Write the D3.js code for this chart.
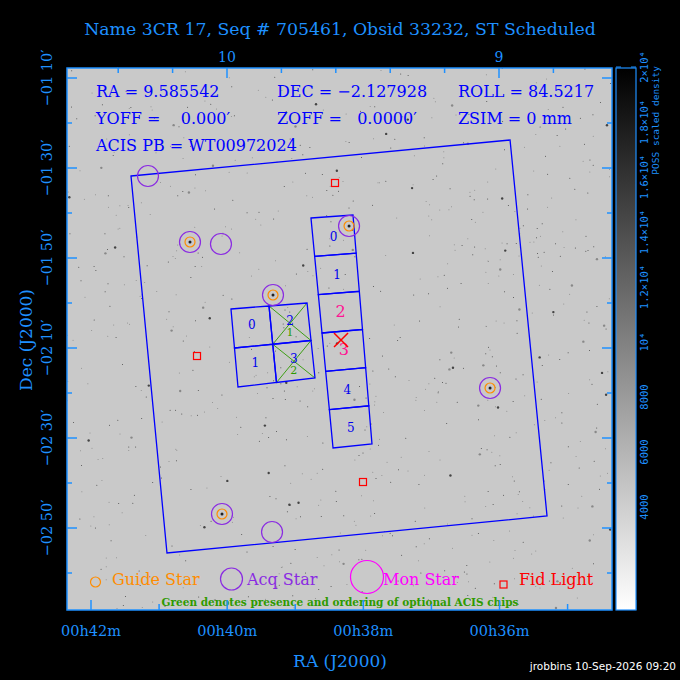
<!DOCTYPE html>
<html>
<head>
<meta charset="utf-8">
<script src="https://cdn.jsdelivr.net/npm/d3@7"></script>
<style>
body{margin:0;background:#000;}
svg{display:block;}
</style>
</head>
<body>
<div id="chart"></div>
<script>
// positions are RA in minutes of time (00h..m) and Dec in arcmin (signed)
const fieldBox = [[41.4125,-91.78],[35.845,-83.78],[35.302,-167.33],[40.884,-175.56]]
const sColumn = [[38.769,-101.11],[38.152,-100.44],[37.873,-151.33],[38.445,-152.22]]
const iArray = [[39.944,-121.33],[38.827,-120],[38.710,-136.67],[39.841,-138.67]]
const sLabels = ['0','1','2','3','4','5']
const sLabelColors = ['#0000ee','#0000ee','#ff1493','#ff1493','#0000ee','#0000ee']
const iLabels = ['0','2','1','3']   // tl, tr, bl, br
const iGreen = [null,'1',null,'2']
const acqStars = [[41.163,-91.78],[40.546,-106.44],[40.091,-106.89],[39.327,-118.22],[38.210,-102.89],[36.139,-138.89],[40.076,-166.89],[39.341,-170.89]]
const guideStars = [[40.546,-106.44],[39.327,-118.22],[38.210,-102.89],[36.139,-138.89],[40.076,-166.89]]
const fidLights = [[38.416,-93.33],[40.443,-131.78],[38.005,-159.78]]
const badChip = [38.328,-128.22]
const raTicks = [42,40,38,36]
const raTickLabels = ['00h42m','00h40m','00h38m','00h36m']
const decTicks = [-70,-90,-110,-130,-150,-170]
const decTickLabels = ['\u221201 10\u2032','\u221201 30\u2032','\u221201 50\u2032','\u221202 10\u2032','\u221202 30\u2032','\u221202 50\u2032']
const degTicks = [10,9]
const cbarTicks = [4000,6000,8000,10000,12000,14000,16000,18000,20000]
const cbarLabels = ['4000','6000','8000','10\u2074','1.2\u00d710\u2074','1.4\u00d710\u2074','1.6\u00d710\u2074','1.8\u00d710\u2074','2\u00d710\u2074']
const infoLines = [
  ['RA = 9.585542','DEC = \u22122.127928','ROLL = 84.5217'],
  ['YOFF =    0.000\u2032','ZOFF =   0.0000\u2032','ZSIM = 0 mm'],
  ['ACIS PB = WT00972024','','']
]

const W = 680, H = 680
const plot = {left:67, right:612, top:68, bottom:610}
const axisBlue = '#1e90ff'
const font = 'DejaVu Serif'

const svg = d3.select('#chart').append('svg').attr('width',W).attr('height',H)
svg.append('rect').attr('width',W).attr('height',H).attr('fill','#000')

const x = d3.scaleLinear().domain([42,36]).range([91,499.5])
const y = d3.scaleLinear().domain([-70,-190]).range([78,618])
const xDeg = d3.scaleLinear().domain([10,9]).range([227,499])
const cy = d3.scaleLinear().domain([4000,20000]).range([507,67])

// sky image
svg.append('rect').attr('x',plot.left).attr('y',plot.top)
  .attr('width',plot.right-plot.left).attr('height',plot.bottom-plot.top).attr('fill','#c9c9c9')
let seed = 17
const rnd = ()=>{ seed = (seed*16807)%2147483647; return seed/2147483647 }
const specks = svg.append('g')
for(let i=0;i<800;i++){
  const sx = plot.left+rnd()*(plot.right-plot.left), sy = plot.top+rnd()*(plot.bottom-plot.top)
  const r = rnd()<0.93 ? 0.5 : 1.2
  specks.append('circle').attr('cx',sx).attr('cy',sy).attr('r',r).attr('fill',rnd()<0.5?'#444':'#888')
}

const pt = d => [x(d[0]), y(d[1])]
const poly = pts => 'M' + pts.map(p=>pt(p).join(',')).join('L') + 'Z'
const lerp = (a,b,t)=>[a[0]+(b[0]-a[0])*t, a[1]+(b[1]-a[1])*t]

// field box
svg.append('path').attr('d',poly(fieldBox)).attr('fill','none').attr('stroke','#0000ff').attr('stroke-width',1.3)

// ACIS-S column split into 6 chips
const [s0,s1,s2,s3] = sColumn
for(let i=0;i<6;i++){
  const a = lerp(s0,s3,i/6), b = lerp(s1,s2,i/6), c = lerp(s1,s2,(i+1)/6), d = lerp(s0,s3,(i+1)/6)
  svg.append('path').attr('d',poly([a,b,c,d])).attr('fill','none').attr('stroke','#0000ff').attr('stroke-width',1.3)
  const ctr = pt(lerp(lerp(a,b,0.5),lerp(d,c,0.5),0.5))
  svg.append('text').attr('x',ctr[0]).attr('y',ctr[1]+5).attr('text-anchor','middle')
    .attr('font-family',font).attr('font-size',i==2||i==3?16:12).attr('fill',sLabelColors[i]).text(sLabels[i])
}

// ACIS-I 2x2
const [i0,i1,i2,i3] = iArray
const iCells = [[0,0],[1,0],[0,1],[1,1]]
iCells.forEach(([cx,cyy],k)=>{
  const q = (u,v)=>lerp(lerp(i0,i1,u),lerp(i3,i2,u),v)
  const a=q(cx/2,cyy/2), b=q((cx+1)/2,cyy/2), c=q((cx+1)/2,(cyy+1)/2), d=q(cx/2,(cyy+1)/2)
  if(cx==1){
    const g = svg.append('g').attr('stroke','#2e9a00').attr('stroke-width',0.9)
    g.append('line').attr('x1',pt(a)[0]).attr('y1',pt(a)[1]).attr('x2',pt(c)[0]).attr('y2',pt(c)[1])
    g.append('line').attr('x1',pt(b)[0]).attr('y1',pt(b)[1]).attr('x2',pt(d)[0]).attr('y2',pt(d)[1])
  }
  svg.append('path').attr('d',poly([a,b,c,d])).attr('fill','none').attr('stroke','#0000ff').attr('stroke-width',1.3)
  const ctr = pt(q((cx+0.5)/2,(cyy+0.5)/2))
  svg.append('text').attr('x',ctr[0]).attr('y',ctr[1]+2).attr('text-anchor','middle')
    .attr('font-family',font).attr('font-size',12).attr('fill','#0000ee').text(iLabels[k])
  if(iGreen[k]) svg.append('text').attr('x',ctr[0]).attr('y',ctr[1]+13).attr('text-anchor','middle')
    .attr('font-family',font).attr('font-size',11).attr('fill','#2e9a00').text(iGreen[k])
})

// bad chip X
const bx = pt(badChip)
svg.append('g').attr('stroke','#ff0000').attr('stroke-width',1.5).selectAll('line')
  .data([[-7,-7,7,7],[-7,7,7,-7]]).join('line')
  .attr('x1',d=>bx[0]+d[0]).attr('y1',d=>bx[1]+d[1]).attr('x2',d=>bx[0]+d[2]).attr('y2',d=>bx[1]+d[3])

// stars
svg.append('g').selectAll('circle.dot').data(guideStars).join('circle')
  .attr('cx',d=>x(d[0])).attr('cy',d=>y(d[1])).attr('r',1.5).attr('fill','#222')
svg.append('g').selectAll('circle').data(acqStars).join('circle')
  .attr('cx',d=>x(d[0])).attr('cy',d=>y(d[1])).attr('r',10.5).attr('fill','none').attr('stroke','#8a2be2').attr('stroke-width',1.2)
svg.append('g').selectAll('circle').data(guideStars).join('circle')
  .attr('cx',d=>x(d[0])).attr('cy',d=>y(d[1])).attr('r',5).attr('fill','none').attr('stroke','#ff8c00').attr('stroke-width',1.2)
svg.append('g').selectAll('rect').data(fidLights).join('rect')
  .attr('x',d=>x(d[0])-3.5).attr('y',d=>y(d[1])-3.5).attr('width',7).attr('height',7)
  .attr('fill','none').attr('stroke','#ff0000').attr('stroke-width',1.2)

// info text
const colX = [96,277,458], rowY = [97,124,151]
infoLines.forEach((row,r)=>row.forEach((t,c)=>{
  if(t) svg.append('text').attr('x',colX[c]).attr('y',rowY[r]).attr('font-family',font)
    .attr('font-size',16).attr('fill','#0000ff').style('white-space','pre').text(t)
}))

// legend
const leg = svg.append('g').attr('font-family',font).attr('font-size',16)
leg.append('circle').attr('cx',95.5).attr('cy',582).attr('r',5).attr('fill','none').attr('stroke','#ff8c00').attr('stroke-width',1.2)
leg.append('text').attr('x',112).attr('y',585).attr('fill','#ff8c00').text('Guide Star')
leg.append('circle').attr('cx',231.5).attr('cy',579).attr('r',11).attr('fill','none').attr('stroke','#8a2be2').attr('stroke-width',1.2)
leg.append('text').attr('x',247).attr('y',585).attr('fill','#8a2be2').text('Acq Star')
leg.append('circle').attr('cx',367).attr('cy',577).attr('r',16.5).attr('fill','none').attr('stroke','#ff00ff').attr('stroke-width',1.2)
leg.append('text').attr('x',383).attr('y',585).attr('fill','#ff00ff').text('Mon Star')
leg.append('rect').attr('x',500).attr('y',581).attr('width',7).attr('height',7).attr('fill','none').attr('stroke','#ff0000').attr('stroke-width',1.2)
leg.append('text').attr('x',519).attr('y',585).attr('fill','#ff0000').text('Fid Light')
svg.append('text').attr('x',340).attr('y',606).attr('text-anchor','middle').attr('font-family',font)
  .attr('font-size',10.5).attr('font-weight','bold').attr('fill','#2e9a00').text('Green denotes presence and ordering of optional ACIS chips')

// frame and ticks
const ax = svg.append('g').attr('stroke',axisBlue).attr('stroke-width',1.5)
ax.append('rect').attr('x',plot.left).attr('y',plot.top).attr('width',plot.right-plot.left)
  .attr('height',plot.bottom-plot.top).attr('fill','none')
d3.range(34,43).forEach(m=>{
  const len = m%2==0 ? 10 : 6
  ax.append('line').attr('x1',x(m)).attr('x2',x(m)).attr('y1',plot.bottom).attr('y2',plot.bottom-len)
})
d3.range(8.8,10.6,0.2).forEach(d=>{
  const px = xDeg(d); if(px<plot.left||px>plot.right) return
  const len = Math.abs(d-Math.round(d))<0.01 ? 10 : 5
  ax.append('line').attr('x1',px).attr('x2',px).attr('y1',plot.top).attr('y2',plot.top+len)
})
d3.range(-70,-190,-10).forEach(d=>{
  const len = (d+70)%20==0 ? 10 : 5
  ax.append('line').attr('x1',plot.left).attr('x2',plot.left+len).attr('y1',y(d)).attr('y2',y(d))
  ax.append('line').attr('x1',plot.right).attr('x2',plot.right-len).attr('y1',y(d)).attr('y2',y(d))
})

const lab = svg.append('g').attr('font-family',font).attr('fill',axisBlue)
raTicks.forEach((m,i)=>lab.append('text').attr('x',x(m)).attr('y',636).attr('text-anchor','middle').attr('font-size',14.5).text(raTickLabels[i]))
degTicks.forEach(d=>lab.append('text').attr('x',xDeg(d)).attr('y',62).attr('text-anchor','middle').attr('font-size',14).text(d))
decTicks.forEach((d,i)=>lab.append('text').attr('transform',`translate(52,${y(d)}) rotate(-90)`).attr('text-anchor','middle').attr('font-size',14.5).text(decTickLabels[i]))
lab.append('text').attr('x',340).attr('y',667).attr('text-anchor','middle').attr('font-size',17).text('RA (J2000)')
lab.append('text').attr('transform','translate(32,340) rotate(-90)').attr('text-anchor','middle').attr('font-size',17).text('Dec (J2000)')
lab.append('text').attr('x',340).attr('y',35).attr('text-anchor','middle').attr('font-size',17.3).text('Name 3CR 17, Seq # 705461, Obsid 33232, ST Scheduled')

// colour bar
const grad = svg.append('defs').append('linearGradient').attr('id','cb').attr('x1',0).attr('x2',0).attr('y1',1).attr('y2',0)
grad.append('stop').attr('offset','0%').attr('stop-color','#ffffff')
grad.append('stop').attr('offset','100%').attr('stop-color','#000000')
svg.append('rect').attr('x',616).attr('y',plot.top).attr('width',20).attr('height',plot.bottom-plot.top)
  .attr('fill','url(#cb)').attr('stroke',axisBlue).attr('stroke-width',1.2)
d3.range(1000,21000,1000).forEach(v=>{
  const len = v%2000==0 ? 5 : 3
  ax.append('line').attr('x1',616).attr('x2',616+len).attr('y1',cy(v)).attr('y2',cy(v)).attr('stroke-width',1)
  ax.append('line').attr('x1',636).attr('x2',636-len).attr('y1',cy(v)).attr('y2',cy(v)).attr('stroke-width',1)
})
cbarTicks.forEach((v,i)=>lab.append('text').attr('transform',`translate(648,${cy(v)}) rotate(-90)`)
  .attr('text-anchor','middle').attr('font-size',10.5).attr('font-family','DejaVu Sans Mono').text(cbarLabels[i]))
lab.append('text').attr('transform','translate(659,66) rotate(-90)').attr('text-anchor','end')
  .attr('font-size',9.5).attr('font-family','DejaVu Sans Mono').text('POSS scaled density')

svg.append('text').attr('x',676).attr('y',670).attr('text-anchor','end').attr('font-family','DejaVu Sans')
  .attr('font-size',10.5).attr('fill','#fff').text('jrobbins 10-Sep-2026 09:20')
</script>
</body>
</html>
